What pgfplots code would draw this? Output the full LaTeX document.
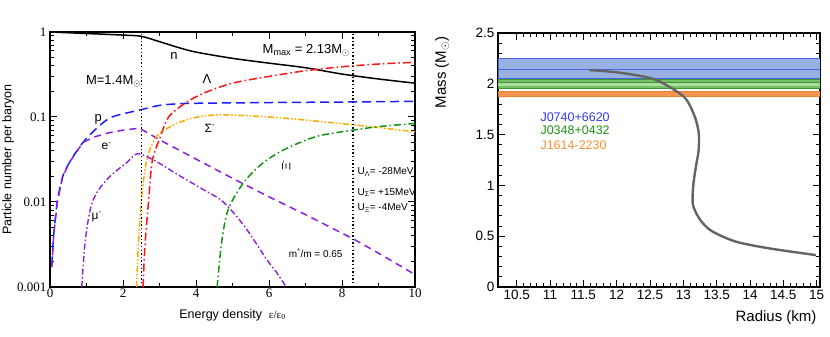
\documentclass[border=0pt]{standalone}
\usepackage{pgfplots}
\pgfplotsset{compat=1.18}
\usepackage{fontspec}
\setmainfont{Liberation Sans}
\newfontfamily\tms{Liberation Serif}

\definecolor{cpurp}{RGB}{140,30,220}
\definecolor{cblue}{RGB}{25,30,250}
\definecolor{cred}{RGB}{250,20,20}
\definecolor{corange}{RGB}{255,170,0}
\definecolor{cgreen}{RGB}{15,150,15}
\definecolor{bandblue}{RGB}{152,176,226}
\definecolor{lineblue}{RGB}{70,100,225}
\definecolor{bandgreen}{RGB}{118,192,104}
\definecolor{bandgreenin}{RGB}{172,222,160}
\definecolor{linegreen}{RGB}{60,150,50}
\definecolor{bandorange}{RGB}{245,150,80}
\definecolor{lineorange}{RGB}{238,128,45}
\definecolor{txtblue}{RGB}{50,60,240}
\definecolor{txtgreen}{RGB}{30,150,20}
\definecolor{txtorange}{RGB}{245,145,50}

\begin{document}
\begin{tikzpicture}
% ---------- left: particle fractions ----------
\begin{axis}[
  at={(50pt,50pt)},anchor=south west,
  scale only axis,width=365pt,height=255pt,
  ymode=log,xmin=0,xmax=10,ymin=0.001,ymax=1,
  xtick={0,2,4,6,8,10},minor xtick={1,3,5,7,9},
  ytick={0.001,0.01,0.1,1},yticklabels={0.001,0.01,0.1,1},
  minor ytick={0.002,0.003,0.004,0.005,0.006,0.007,0.008,0.009,
               0.02,0.03,0.04,0.05,0.06,0.07,0.08,0.09,
               0.2,0.3,0.4,0.5,0.6,0.7,0.8,0.9},
  major tick length=7pt,minor tick length=4pt,
  axis line style={line width=1.3pt},
  every tick/.style={black,line width=1pt},
  tick label style={font=\tms\fontsize{13}{13}\selectfont},
  /pgf/number format/assume math mode=true,
  xticklabel style={yshift=2pt},
  xlabel={Energy density\ \ {\tms\fontsize{11}{11}\selectfont ε/ε\textsubscript{0}}},
  ylabel={Particle number per baryon},
  label style={font=\fontsize{12.5}{12.5}\selectfont},
  xlabel style={at={(axis description cs:0.5,-0.11)},anchor=center},
  ylabel style={at={(axis description cs:-0.115,0.5)},anchor=center},
  clip=true,
]
  % neutrons
  \addplot[black,line width=1.5pt,smooth] coordinates {
    (0,1) (1,0.96) (2,0.92) (2.5,0.89) (3,0.77) (3.5,0.66) (4,0.58)
    (5,0.49) (6,0.43) (7,0.38) (8,0.32) (9,0.28) (10,0.25)};
  % protons
  \addplot[cblue,line width=1.5pt,dash pattern=on 9pt off 5pt,smooth] coordinates {
    (0.05,0.0018) (0.1,0.004) (0.2,0.01) (0.35,0.02) (0.55,0.03) (0.9,0.05)
    (1.3,0.075) (1.7,0.1) (2.5,0.122) (3,0.137) (3.5,0.143) (4,0.145)
    (6,0.148) (8,0.15) (10,0.153)};
  % electrons
  \addplot[cpurp,line width=1.5pt,dash pattern=on 7pt off 5pt] coordinates {
    (0.05,0.0017) (0.1,0.004) (0.2,0.01) (0.35,0.02) (0.55,0.03) (0.9,0.05)
    (1.2,0.058) (1.6,0.065) (2.0,0.07) (2.45,0.074) (3,0.054) (4,0.032)
    (5,0.019) (6,0.0115) (7,0.0071) (8.3,0.0037) (9,0.0025) (10,0.0014)};
  % muons
  \addplot[cpurp,line width=1.4pt,dash pattern=on 6pt off 2.5pt on 1.5pt off 2.5pt,smooth] coordinates {
    (0.87,0.001) (0.96,0.0033) (1.1,0.0081) (1.28,0.0128) (1.64,0.02)
    (2.1,0.029) (2.4,0.037) (2.85,0.031) (3.5,0.021) (4.2,0.014) (4.75,0.01)
    (5.34,0.0051) (5.94,0.0021) (6.2,0.0015) (6.47,0.001)};
  % Lambda
  \addplot[cred,line width=1.5pt,dash pattern=on 8pt off 3pt on 1.5pt off 3pt,smooth] coordinates {
    (2.55,0.001) (2.6,0.003) (2.7,0.01) (2.8,0.03) (3.0,0.055) (3.25,0.1)
    (3.7,0.145) (4.2,0.19) (5,0.25) (6,0.3) (7,0.35) (8,0.39) (9,0.42) (10,0.44)};
  % Sigma-
  \addplot[corange,line width=1.5pt,dash pattern=on 6pt off 2pt on 1.5pt off 2pt on 1.5pt off 2pt,smooth] coordinates {
    (2.37,0.001) (2.42,0.003) (2.5,0.01) (2.65,0.031) (2.92,0.059) (3.47,0.084)
    (4.1,0.101) (4.8,0.106) (6,0.1) (7,0.092) (8.3,0.081) (9,0.075) (10,0.067)};
  % Xi-
  \addplot[cgreen,line width=1.5pt,dash pattern=on 7pt off 3pt on 1.5pt off 3pt,smooth] coordinates {
    (4.58,0.001) (4.7,0.0033) (4.88,0.0081) (5.3,0.0168) (5.8,0.028)
    (6.4,0.041) (7.3,0.059) (8.3,0.07) (9,0.077) (10,0.084)};
  % densities of 1.4 and maximum-mass stars
  \addplot[black,line width=1.4pt,dash pattern=on 1.4pt off 2.2pt] coordinates {(2.5,0.001) (2.5,1)};
  \addplot[black,line width=1.4pt,dash pattern=on 1.4pt off 2.2pt] coordinates {(8.3,0.001) (8.3,1)};

  \node[font=\fontsize{13}{13}\selectfont] at (axis cs:3.4,0.52) {n};
  \node[font=\fontsize{13}{13}\selectfont,anchor=base west] at (axis cs:5.73,0.56) {M\textsubscript{max} = 2.13M\textsubscript{$\odot$}};
  \node[font=\fontsize{13}{13}\selectfont,anchor=base west] at (axis cs:0.89,0.238) {M=1.4M\textsubscript{$\odot$}};
  \node[font=\fontsize{13}{13}\selectfont,anchor=base] at (axis cs:4.3,0.25) {Λ};
  \node[font=\fontsize{13}{13}\selectfont] at (axis cs:1.32,0.095) {p};
  \node[font=\fontsize{12}{12}\selectfont] at (axis cs:1.55,0.045) {e\textsuperscript{-}};
  \node[font=\fontsize{12}{12}\selectfont] at (axis cs:4.38,0.074) {Σ\textsuperscript{-}};
  \node[font=\fontsize{12}{12}\selectfont,rotate=90] at (axis cs:6.47,0.027) {Ξ\textsuperscript{-}};
  \node[font=\fontsize{12}{12}\selectfont] at (axis cs:1.28,0.0067) {μ\textsuperscript{-}};
  \node[font=\fontsize{10}{10}\selectfont,anchor=west] at (axis cs:8.33,0.0225) {U\textsubscript{Λ}= -28MeV};
  \node[font=\fontsize{10}{10}\selectfont,anchor=west] at (axis cs:8.33,0.013) {U\textsubscript{Σ}= +15MeV};
  \node[font=\fontsize{10}{10}\selectfont,anchor=west] at (axis cs:8.33,0.0085) {U\textsubscript{Ξ}= -4MeV};
  \node[font=\fontsize{10}{10}\selectfont,anchor=west] at (axis cs:6.45,0.0025) {m\textsuperscript{*}/m = 0.65};
\end{axis}

% ---------- right: mass-radius ----------
\begin{axis}[
  at={(498pt,50pt)},anchor=south west,
  scale only axis,width=322pt,height=254pt,
  xmin=10.22,xmax=15.05,ymin=0,ymax=2.5,
  xtick={10.5,11,...,15},ytick={0,0.5,...,2.5},
  minor x tick num=4,minor y tick num=4,
  major tick length=7pt,minor tick length=4pt,
  axis line style={line width=1.3pt},
  every tick/.style={black,line width=1pt},
  tick label style={font=\fontsize{13.5}{13.5}\selectfont},
  /pgf/number format/assume math mode=true,
  xlabel={Radius (km)},ylabel={Mass (M\textsubscript{$\odot$})},
  label style={font=\fontsize{15}{15}\selectfont},
  xlabel style={at={(axis description cs:1,-0.122)},anchor=east},
  ylabel style={at={(axis description cs:-0.174,1)},anchor=east},
]
  % J0740+6620
  \addplot[fill=bandblue,draw=lineblue,line width=0.9pt] coordinates {
    (10.22,2.05) (15.05,2.05) (15.05,2.245) (10.22,2.245)} -- cycle;
  \addplot[lineblue,line width=1.1pt] coordinates {(10.22,2.14) (15.05,2.14)};
  % J0348+0432
  \addplot[fill=bandgreen,draw=linegreen,line width=0.7pt] coordinates {
    (10.22,1.957) (15.05,1.957) (15.05,2.046) (10.22,2.046)} -- cycle;
  \addplot[fill=bandgreenin,draw=none] coordinates {
    (10.22,1.98) (15.05,1.98) (15.05,2.02) (10.22,2.02)} -- cycle;
  \addplot[linegreen,line width=0.9pt] coordinates {(10.22,2.01) (15.05,2.01)};
  % J1614-2230
  \addplot[fill=bandorange,draw=lineorange,line width=0.7pt] coordinates {
    (10.22,1.88) (15.05,1.88) (15.05,1.925) (10.22,1.925)} -- cycle;
  % mass-radius relation
  \addplot[color={rgb,255:red,100;green,100;blue,100},line width=2.4pt,smooth] coordinates {
    (11.59,2.135) (12.04,2.11) (12.54,2.05) (12.84,1.95) (13.04,1.85)
    (13.17,1.68) (13.23,1.52) (13.23,1.35) (13.19,1.19) (13.15,1.01)
    (13.14,0.83) (13.19,0.73) (13.29,0.63) (13.44,0.545) (13.79,0.446)
    (14.29,0.38) (14.99,0.314)};

  \node[font=\fontsize{12.5}{12.5}\selectfont,text=txtblue,anchor=west,inner sep=0pt] at (axis cs:10.855,1.67) {J0740+6620};
  \node[font=\fontsize{12.5}{12.5}\selectfont,text=txtgreen,anchor=west,inner sep=0pt] at (axis cs:10.855,1.54) {J0348+0432};
  \node[font=\fontsize{12.5}{12.5}\selectfont,text=txtorange,anchor=west,inner sep=0pt] at (axis cs:10.855,1.40) {J1614-2230};
\end{axis}
\pgfresetboundingbox
\useasboundingbox (0,0) rectangle (830pt,337pt);
\end{tikzpicture}
\end{document}
